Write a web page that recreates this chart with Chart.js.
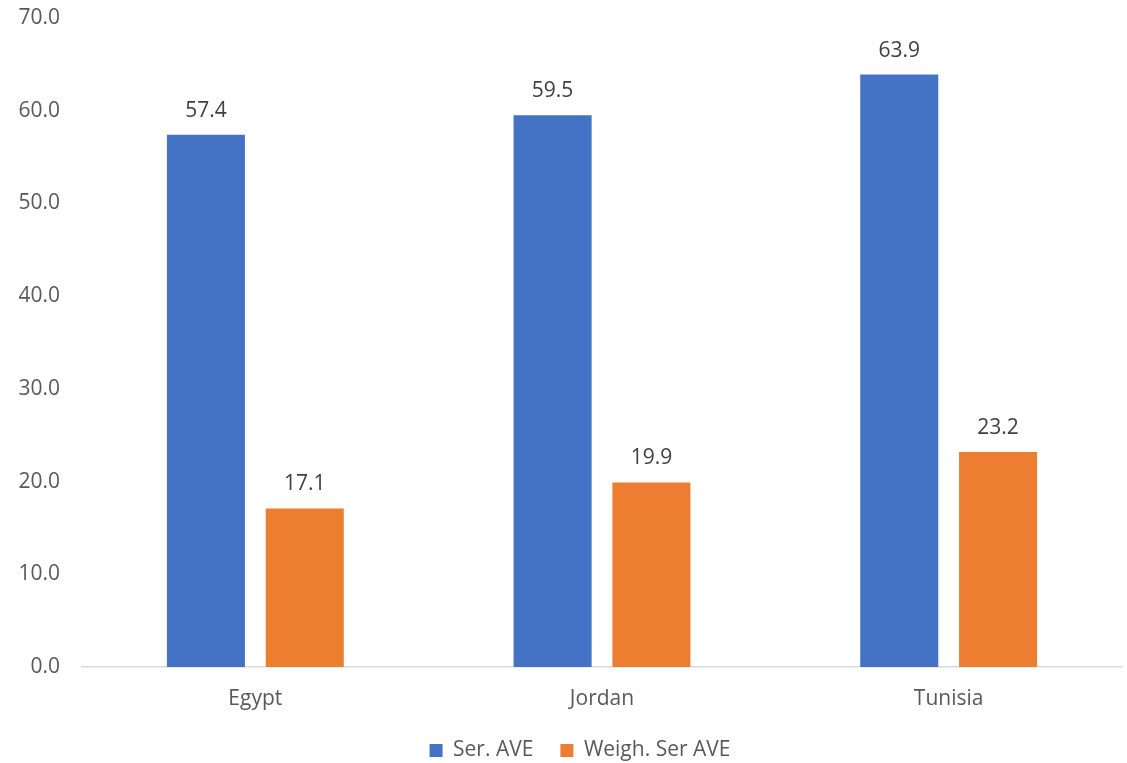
<!DOCTYPE html>
<html>
<head>
<meta charset="utf-8">
<script src="https://cdn.jsdelivr.net/npm/chart.js@4.4.1/dist/chart.umd.min.js"></script>
<style>
  html, body { margin: 0; padding: 0; background: #fff; }
  #wrap { width: 1127px; height: 763px; position: relative; }
</style>
</head>
<body>
<div id="wrap"><canvas id="aveChart"></canvas></div>
<script>
const countries = ["Egypt", "Jordan", "Tunisia"];
const serAve = [57.4, 59.5, 63.9];
const weighSerAve = [17.1, 19.9, 23.2];
const seriesNames = ["Ser. AVE", "Weigh. Ser AVE"];
const yTicks = [0, 10, 20, 30, 40, 50, 60, 70];

const FONT = "'Open Sans', 'Noto Sans', sans-serif";

// value labels above each bar
const barLabels = {
  id: "barLabels",
  afterDatasetsDraw(chart) {
    const ctx = chart.ctx;
    ctx.save();
    ctx.font = "21px " + FONT;
    ctx.fillStyle = "#404040";
    ctx.textAlign = "center";
    ctx.textBaseline = "alphabetic";
    chart.data.datasets.forEach((ds, i) => {
      chart.getDatasetMeta(i).data.forEach((bar, j) => {
        ctx.fillText(ds.data[j].toFixed(1), bar.x, bar.y - 18);
      });
    });
    ctx.restore();
  }
};

// fixed legend height, and legend nudged a bit right of the canvas centre
const legendPlacement = {
  id: "legendPlacement",
  beforeLayout(chart) {
    const lg = chart.legend;
    if (lg && !lg._fixedFit) {
      const fit = lg.fit.bind(lg);
      lg.fit = function () { fit(); this.height = 50; };
      lg._fixedFit = true;
    }
  },
  afterLayout(chart) {
    if (chart.legend) chart.legend.left += 38;
  }
};

const ctx = document.getElementById("aveChart").getContext("2d");
new Chart(ctx, {
  type: "bar",
  data: {
    labels: countries,
    datasets: [
      { label: seriesNames[0], data: serAve, backgroundColor: "#4472C4" },
      { label: seriesNames[1], data: weighSerAve, backgroundColor: "#ED7D31" }
    ]
  },
  options: {
    responsive: true,
    maintainAspectRatio: false,
    animation: false,
    categoryPercentage: 0.57,
    barPercentage: 0.79,
    layout: { padding: { left: 0, right: 5, top: 18, bottom: 0 } },
    plugins: {
      tooltip: { enabled: false },
      legend: {
        position: "bottom",
        labels: {
          boxWidth: 13,
          boxHeight: 13,
          padding: 27,
          color: "#595959",
          font: { family: FONT, size: 21 }
        }
      }
    },
    scales: {
      x: {
        afterFit: axis => { axis.height = 46; axis.paddingLeft = 0; axis.paddingRight = 0; },
        grid: { display: false },
        border: { display: true, color: "#d9d9d9", width: 1.5 },
        ticks: { color: "#595959", font: { family: FONT, size: 21 }, padding: 11 }
      },
      y: {
        min: 0,
        max: 70,
        afterBuildTicks: axis => { axis.ticks = yTicks.map(v => ({ value: v })); },
        afterFit: axis => { axis.width = 82; axis.paddingTop = 0; axis.paddingBottom = 0; },
        grid: { display: false },
        border: { display: false },
        ticks: {
          color: "#595959",
          font: { family: FONT, size: 21 },
          padding: 14,
          callback: v => v.toFixed(1)
        }
      }
    }
  },
  plugins: [barLabels, legendPlacement]
});
</script>
</body>
</html>
